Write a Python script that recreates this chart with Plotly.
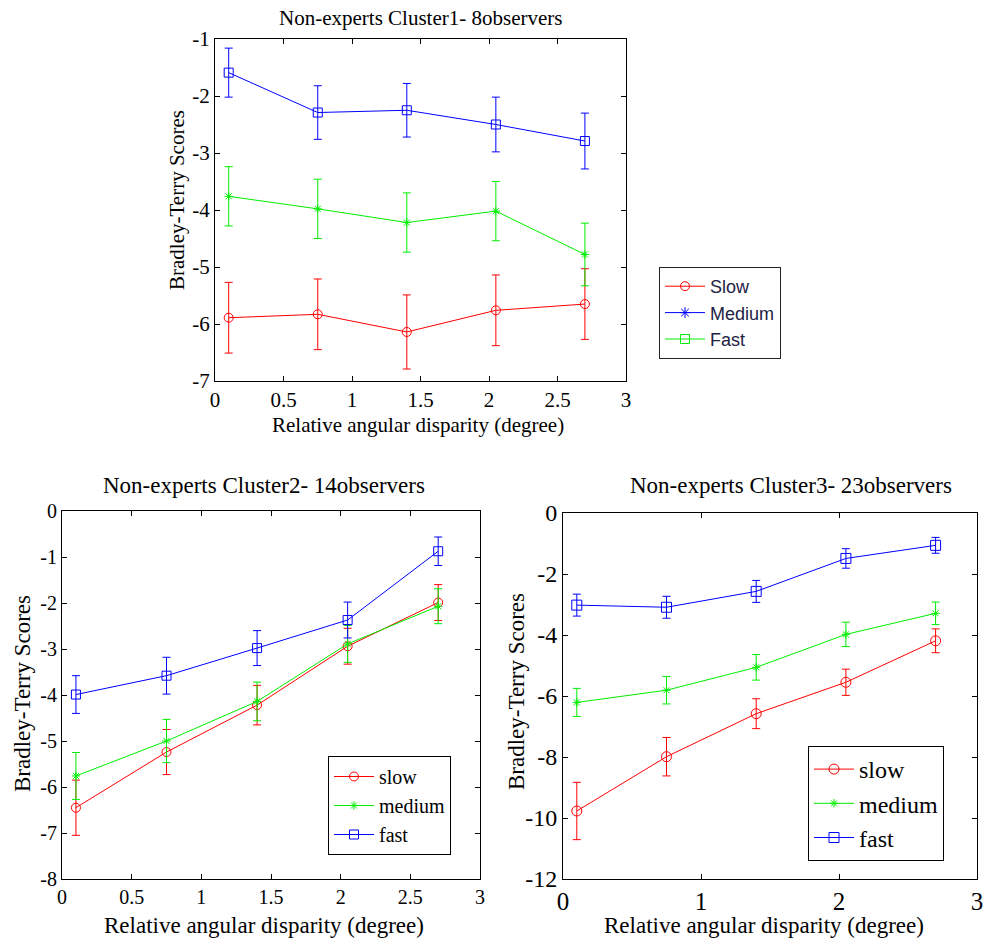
import plotly.graph_objects as go

# ---------------- data ----------------
x_vals = [0.1, 0.75, 1.4, 2.05, 2.7]

# Cluster 1 (top)
c1_red = [-5.89, -5.83, -6.14, -5.76, -5.65]
c1_red_err = [0.62, 0.62, 0.65, 0.62, 0.62]
c1_green = [-3.76, -3.98, -4.22, -4.02, -4.78]
c1_green_err = [0.52, 0.52, 0.52, 0.52, 0.55]
c1_blue = [-1.59, -2.29, -2.25, -2.50, -2.79]
c1_blue_err = [0.43, 0.47, 0.47, 0.48, 0.49]

# Cluster 2 (bottom left)
c2_slow = [-6.45, -5.24, -4.22, -2.94, -1.99]
c2_slow_err = [0.60, 0.49, 0.43, 0.39, 0.39]
c2_medium = [-5.76, -5.00, -4.14, -2.89, -2.07]
c2_medium_err = [0.51, 0.47, 0.42, 0.40, 0.38]
c2_fast = [-3.99, -3.58, -2.98, -2.37, -0.875]
c2_fast_err = [0.41, 0.40, 0.38, 0.39, 0.31]

# Cluster 3 (bottom right)
c3_slow = [-9.77, -7.99, -6.58, -5.55, -4.19]
c3_slow_err = [0.94, 0.63, 0.49, 0.43, 0.39]
c3_medium = [-6.21, -5.81, -5.06, -3.98, -3.29]
c3_medium_err = [0.46, 0.45, 0.42, 0.40, 0.37]
c3_fast = [-3.02, -3.09, -2.57, -1.49, -1.06]
c3_fast_err = [0.36, 0.36, 0.36, 0.32, 0.26]

titles = ["Non-experts Cluster1- 8observers",
          "Non-experts Cluster2- 14observers",
          "Non-experts Cluster3- 23observers"]
x_title = "Relative angular disparity (degree)"
y_title = "Bradley-Terry Scores"
top_legend_names = ["Slow", "Medium", "Fast"]
bottom_legend_names = ["slow", "medium", "fast"]

x_ticks_half = [0, 0.5, 1, 1.5, 2, 2.5, 3]
x_ticks_half_text = ["0", "0.5", "1", "1.5", "2", "2.5", "3"]
x_ticks_int = [0, 1, 2, 3]
x_ticks_int_text = ["0", "1", "2", "3"]
y1_ticks = [-7, -6, -5, -4, -3, -2, -1]
y2_ticks = [-8, -7, -6, -5, -4, -3, -2, -1, 0]
y3_ticks = [-12, -10, -8, -6, -4, -2, 0]

RED = "#ff0000"
GREEN = "#00ee00"
BLUE = "#0000ff"
SERIF = "Liberation Serif"

fig = go.Figure()


def add_series(y, err, color, symbol, msize, xa, ya, name, showlegend, legend):
    fig.add_trace(go.Scatter(
        x=x_vals, y=y, mode="lines+markers", name=name,
        line=dict(color=color, width=1),
        marker=dict(symbol=symbol, size=msize, color=color,
                    line=dict(color=color, width=1)),
        error_y=dict(type="data", array=err, visible=True, color=color,
                     thickness=1, width=4),
        xaxis=xa, yaxis=ya, showlegend=showlegend, legend=legend,
    ))


# top subplot (data traces; legend shown separately as in the original)
add_series(c1_red, c1_red_err, RED, "circle-open", 9, "x", "y", "slow", False, "legend")
add_series(c1_green, c1_green_err, GREEN, "asterisk-open", 7, "x", "y", "medium", False, "legend")
add_series(c1_blue, c1_blue_err, BLUE, "square-open", 9, "x", "y", "fast", False, "legend")

# top legend entries (as shown in the pasted legend)
for nm, col, sym in zip(top_legend_names, [RED, BLUE, GREEN],
                        ["circle-open", "asterisk-open", "square-open"]):
    fig.add_trace(go.Scatter(
        x=[None], y=[None], mode="lines+markers", name=nm,
        line=dict(color=col, width=1),
        marker=dict(symbol=sym, size=9, color=col, line=dict(color=col, width=1)),
        xaxis="x", yaxis="y", showlegend=True, legend="legend",
    ))

# bottom left
add_series(c2_slow, c2_slow_err, RED, "circle-open", 9, "x2", "y2", bottom_legend_names[0], True, "legend2")
add_series(c2_medium, c2_medium_err, GREEN, "asterisk-open", 7, "x2", "y2", bottom_legend_names[1], True, "legend2")
add_series(c2_fast, c2_fast_err, BLUE, "square-open", 9, "x2", "y2", bottom_legend_names[2], True, "legend2")

# bottom right
add_series(c3_slow, c3_slow_err, RED, "circle-open", 10, "x3", "y3", bottom_legend_names[0], True, "legend3")
add_series(c3_medium, c3_medium_err, GREEN, "asterisk-open", 7, "x3", "y3", bottom_legend_names[1], True, "legend3")
add_series(c3_fast, c3_fast_err, BLUE, "square-open", 10, "x3", "y3", bottom_legend_names[2], True, "legend3")

W, H = 988, 943


def px(xp):
    return xp / W


def py(yp):
    return 1 - yp / H


def axis(domain, rng, tv, tt, fsize, anchor):
    return dict(domain=domain, range=rng, tickvals=tv, ticktext=tt,
                showgrid=False, zeroline=False, showline=True, linecolor="black",
                linewidth=1, mirror="allticks", ticks="inside", ticklen=5,
                tickcolor="black", tickfont=dict(family=SERIF, size=fsize, color="black"),
                anchor=anchor, automargin=False)


fig.update_layout(
    width=W, height=H, margin=dict(l=0, r=0, t=0, b=0),
    paper_bgcolor="white", plot_bgcolor="white",
    xaxis=axis([px(215), px(626)], [0, 3], x_ticks_half, x_ticks_half_text, 21, "y"),
    yaxis=axis([py(381), py(39)], [-7, -1], y1_ticks, [str(v) for v in y1_ticks], 21, "x"),
    xaxis2=axis([px(62), px(480)], [0, 3], x_ticks_half, x_ticks_half_text, 20, "y2"),
    yaxis2=axis([py(879), py(511)], [-8, 0], y2_ticks, [str(v) for v in y2_ticks], 20, "x2"),
    xaxis3=axis([px(563), px(977)], [0, 3], x_ticks_int, x_ticks_int_text, 25, "y3"),
    yaxis3=axis([py(879), py(513)], [-12, 0], y3_ticks, [str(v) for v in y3_ticks], 24, "x3"),
    legend=dict(x=px(659), y=py(267), xanchor="left", yanchor="top",
                bordercolor="#222222", borderwidth=1, bgcolor="white",
                font=dict(family="Liberation Sans", size=18, color="#222244"),
                tracegroupgap=0, itemwidth=40),
    legend2=dict(x=px(328), y=py(756), xanchor="left", yanchor="top",
                 bordercolor="black", borderwidth=1, bgcolor="white",
                 font=dict(family=SERIF, size=20, color="black"),
                 tracegroupgap=0, itemwidth=40),
    legend3=dict(x=px(808), y=py(746), xanchor="left", yanchor="top",
                 bordercolor="black", borderwidth=1, bgcolor="white",
                 font=dict(family=SERIF, size=24, color="black"),
                 tracegroupgap=0, itemwidth=40),
)

ann = []


def text(t, xp, yp, size, angle=0):
    ann.append(dict(text=t, x=px(xp), y=py(yp), xref="paper", yref="paper",
                    showarrow=False, textangle=angle, xanchor="center", yanchor="middle",
                    font=dict(family=SERIF, size=size, color="black")))


text(titles[0], 420, 18, 21)
text(x_title, 418, 425, 21)
text(y_title, 177, 200, 21, -90)

text(titles[1], 264, 486, 23)
text(x_title, 264, 925, 23)
text(y_title, 22, 694, 23, -90)

text(titles[2], 791, 486, 23)
text(x_title, 764, 925, 23)
text(y_title, 516, 692, 23, -90)

fig.update_layout(annotations=ann)

fig.write_html("out.html", config={"displayModeBar": False},
               post_script="document.body.style.margin='0';document.body.style.padding='0';")
